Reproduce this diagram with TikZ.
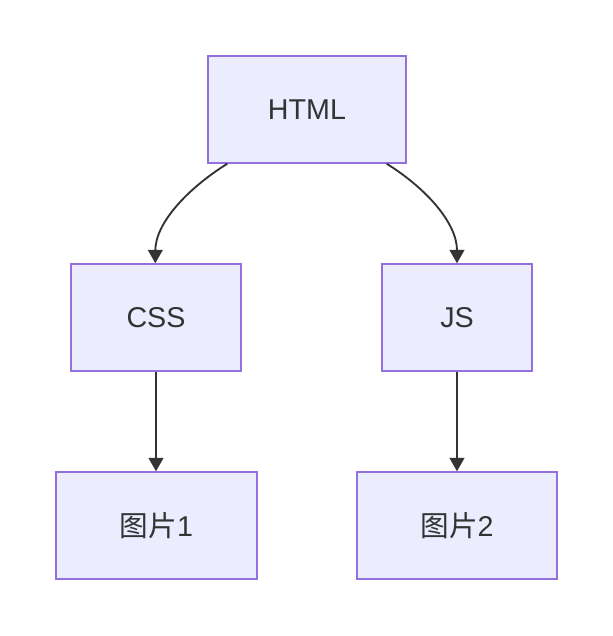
\documentclass[tikz,border=0pt]{standalone}
\usepackage{fontspec}
\setmainfont{Liberation Sans}
\newfontfamily\cjk{Noto Sans CJK SC}
\usetikzlibrary{arrows.meta,calc}
\definecolor{mmfill}{RGB}{236,236,255}
\definecolor{mmline}{RGB}{147,112,219}
\definecolor{mmtext}{RGB}{51,51,51}
\tikzset{
  box/.style={draw=mmline,fill=mmfill,line width=1.1pt,text=mmtext,minimum height=80.25pt,inner sep=0pt},
  link/.style={draw=mmtext,line width=1.4pt,-{Triangle[length=10pt,width=11pt]}}
}

\begin{document}
\begin{tikzpicture}[x=0.75pt,y=-0.75pt,font=\fontsize{21.5}{24}\selectfont]
\useasboundingbox (0,0) rectangle (613,636);
\node[box,minimum width=148.5pt] (html) at (307,109.5){HTML};
\node[box,minimum width=127.5pt] (css) at (156,317.5){CSS};
\node[box,minimum width=112.5pt] (js) at (457,317.5){JS};
\node[box,minimum width=150.75pt] (pic1) at (156.5,525.5){{\cjk 图片}1};
\node[box,minimum width=150pt] (pic2) at (457,525.5){{\cjk 图片}2};
% curved links out of the top box
\draw[link] ([xshift=15pt]html.south west) .. controls +(-40,25) and +(0,-40) .. ([xshift=-0.5pt]css.north);
\draw[link] ([xshift=-15pt]html.south east) .. controls +(40,25) and +(0,-40) .. (js.north);
% straight links down
\draw[link] (css.south) -- (css.south |- pic1.north);
\draw[link] (js.south) -- (js.south |- pic2.north);
\end{tikzpicture}
\end{document}
